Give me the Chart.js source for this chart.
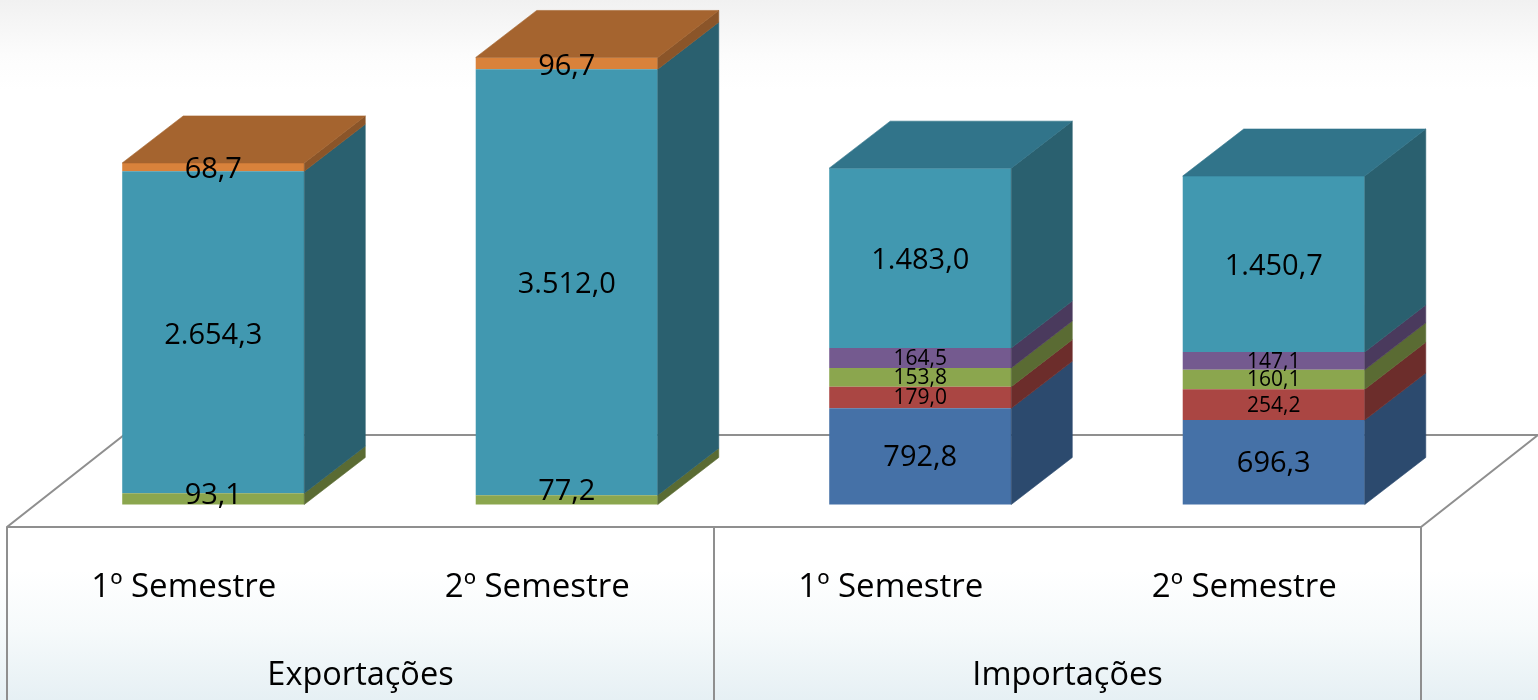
<!DOCTYPE html>
<html>
<head>
<meta charset="utf-8">
<script src="https://cdn.jsdelivr.net/npm/chart.js@4"></script>
<style>
  html, body { margin: 0; padding: 0; width: 1538px; height: 700px; overflow: hidden; }
  body { background: linear-gradient(180deg, #f1f1f1 0px, #fcfcfc 55px, #ffffff 90px, #ffffff 570px, #f6fafb 630px, #e6f0f4 700px); }
  canvas { display: block; }
</style>
</head>
<body>
<canvas id="myChart" width="1538" height="700"></canvas>
<script>
var semestres = ['1º Semestre', '2º Semestre', '1º Semestre', '2º Semestre'];
var grupos = ['Exportações', 'Importações'];

var azul = [null, null, 792.8, 696.3];
var vermelho = [null, null, 179.0, 254.2];
var verde = [93.1, 77.2, 153.8, 160.1];
var roxo = [null, null, 164.5, 147.1];
var turquesa = [2654.3, 3512.0, 1483.0, 1450.7];
var laranja = [68.7, 96.7, null, null];

// frente, lateral e topo de cada serie
var cores = [
  { frente: '#4571a7', lado: '#2c4a6e', topo: '#2c4a6e' },
  { frente: '#aa4643', lado: '#6c2d2b', topo: '#6c2d2b' },
  { frente: '#8ba64e', lado: '#5a6b33', topo: '#5a6b33' },
  { frente: '#745a8f', lado: '#4a3a5d', topo: '#4a3a5d' },
  { frente: '#4198b0', lado: '#2a606f', topo: '#31748a' },
  { frente: '#d9823b', lado: '#8b5529', topo: '#a5642f' }
];

var valores = [azul, vermelho, verde, roxo, turquesa, laranja];

var data = {
  labels: semestres,
  datasets: valores.map(function (v, i) {
    return { data: v, backgroundColor: cores[i].frente, borderWidth: 0 };
  })
};

// deslocamento da barra sobre o piso, e profundidade da barra e do piso
var recuo = { x: 29.5, y: -22.5 };
var prof = { x: 61, y: -47 };
var piso = { x: 117, y: -92 };
var linha = '#8f8f8f';
var fonte = 'Open Sans';

function formata(v) {
  return v.toLocaleString('pt-BR', { minimumFractionDigits: 1, maximumFractionDigits: 1 });
}

function poligono(ctx, pts, cor) {
  ctx.fillStyle = cor;
  ctx.strokeStyle = cor;
  ctx.lineWidth = 0.6;
  ctx.beginPath();
  ctx.moveTo(pts[0][0], pts[0][1]);
  for (var i = 1; i < pts.length; i++) ctx.lineTo(pts[i][0], pts[i][1]);
  ctx.closePath();
  ctx.fill();
  ctx.stroke();
}

// rotulos finos de verde ficam acima do centro do segmento
function ajusteRotulo(i, j) {
  if (i === 2 && j === 0) return -3;
  if (i === 2 && j === 1) return -8;
  if (i >= 4) return 3;
  return 1;
}

var barras3d = {
  id: 'barras3d',
  beforeDatasetsDraw: function (chart) {
    var ctx = chart.ctx, a = chart.chartArea;
    var meio = (chart.scales.x.getPixelForValue(1) + chart.scales.x.getPixelForValue(2)) / 2;
    ctx.save();
    ctx.strokeStyle = linha;
    ctx.lineWidth = 2;
    ctx.beginPath();
    // piso
    ctx.moveTo(a.left, chart.height);
    ctx.lineTo(a.left, a.bottom);
    ctx.lineTo(a.left + piso.x, a.bottom + piso.y);
    ctx.lineTo(a.right + piso.x, a.bottom + piso.y);
    ctx.lineTo(a.right, a.bottom);
    ctx.lineTo(a.left, a.bottom);
    ctx.moveTo(a.right, a.bottom);
    ctx.lineTo(a.right, chart.height);
    ctx.moveTo(meio, a.bottom);
    ctx.lineTo(meio, chart.height);
    ctx.stroke();
    ctx.restore();
    ctx.save();
    ctx.translate(recuo.x, recuo.y);
  },
  afterDatasetsDraw: function (chart) {
    var ctx = chart.ctx;
    var topos = {};
    chart.data.datasets.forEach(function (ds, i) {
      chart.getDatasetMeta(i).data.forEach(function (bar, j) {
        if (ds.data[j] == null) return;
        var dir = bar.x + bar.width / 2;
        poligono(ctx, [
          [dir, bar.y], [dir + prof.x, bar.y + prof.y],
          [dir + prof.x, bar.base + prof.y], [dir, bar.base]
        ], cores[i].lado);
        topos[j] = { bar: bar, cor: cores[i].topo };
      });
    });
    Object.keys(topos).forEach(function (j) {
      var b = topos[j].bar, esq = b.x - b.width / 2, dir = b.x + b.width / 2;
      poligono(ctx, [
        [esq, b.y], [esq + prof.x, b.y + prof.y],
        [dir + prof.x, b.y + prof.y], [dir, b.y]
      ], topos[j].cor);
    });
    ctx.fillStyle = '#000';
    ctx.textAlign = 'center';
    ctx.textBaseline = 'middle';
    chart.data.datasets.forEach(function (ds, i) {
      chart.getDatasetMeta(i).data.forEach(function (bar, j) {
        if (ds.data[j] == null) return;
        var pequeno = j >= 2 && i >= 1 && i <= 3;
        ctx.font = (pequeno ? 21 : 29) + 'px ' + fonte;
        ctx.fillText(formata(ds.data[j]), bar.x, (bar.y + bar.base) / 2 + ajusteRotulo(i, j));
      });
    });
    ctx.restore();
  }
};

var ctx = document.getElementById('myChart').getContext('2d');
var myChart = new Chart(ctx, {
  type: 'bar',
  data: data,
  plugins: [barras3d],
  options: {
    responsive: false,
    animation: false,
    clip: false,
    layout: { padding: { left: 7, right: 117, top: 0, bottom: 0 } },
    plugins: { legend: { display: false }, tooltip: { enabled: false } },
    datasets: { bar: { categoryPercentage: 1, barPercentage: 0.515 } },
    scales: {
      x: {
        stacked: true,
        weight: 1,
        grid: { display: false },
        border: { display: false },
        ticks: { color: '#000', font: { family: fonte, size: 33 }, padding: 33, maxRotation: 0 },
        afterFit: function (s) { s.height = 90; }
      },
      x2: {
        type: 'category',
        position: 'bottom',
        labels: grupos,
        weight: 2,
        grid: { display: false },
        border: { display: false },
        ticks: { color: '#000', font: { family: fonte, size: 32.5 }, padding: 31, maxRotation: 0 },
        afterFit: function (s) { s.height = 83; }
      },
      y: {
        stacked: true,
        display: false,
        min: 0,
        max: 4345
      }
    }
  }
});
</script>
</body>
</html>
